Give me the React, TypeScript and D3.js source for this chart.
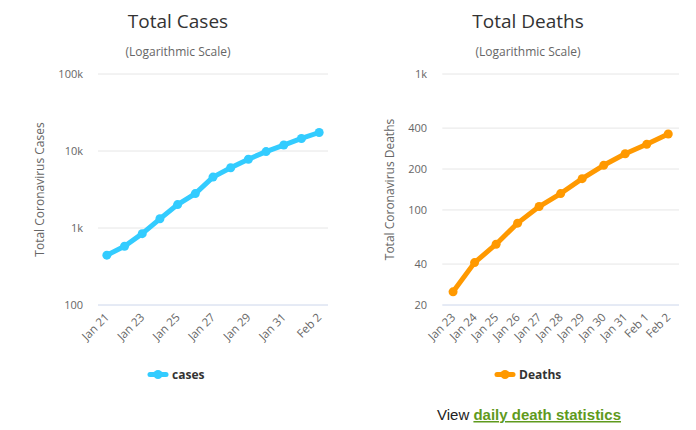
import React from "react";
import * as d3 from "d3";

const caseDates = ["Jan 21","Jan 22","Jan 23","Jan 24","Jan 25","Jan 26","Jan 27","Jan 28","Jan 29","Jan 30","Jan 31","Feb 1","Feb 2"];
const caseValues = [444, 580, 845, 1317, 2015, 2800, 4581, 6058, 7813, 9821, 11948, 14551, 17387];
const caseTicks = [100, 1000, 10000, 100000];
const caseTickLabels = ["100", "1k", "10k", "100k"];

const deathDates = ["Jan 23","Jan 24","Jan 25","Jan 26","Jan 27","Jan 28","Jan 29","Jan 30","Jan 31","Feb 1","Feb 2"];
const deathValues = [25, 41, 56, 80, 106, 132, 170, 213, 259, 304, 362];
const deathTicks = [20, 40, 100, 200, 400, 1000];
const deathTickLabels = ["20", "40", "100", "200", "400", "1k"];

const FONT = "'Open Sans', 'DejaVu Sans', sans-serif";

type PanelProps = {
  ox: number;
  title: string;
  yTitle: string;
  dates: string[];
  values: number[];
  ticks: number[];
  tickLabels: string[];
  domain: [number, number];
  x0: number;
  x1: number;
  labelEvery: number;
  color: string;
  legend: string;
  legendX: number;
  yTitleX: number;
  labelRight: number;
};

function Panel(p: PanelProps) {
  const top = 74, bottom = 305;
  const y = d3.scaleLog().domain(p.domain).range([bottom, top]);
  const x = d3.scaleBand<string>().domain(p.dates).range([p.x0, p.x1]).padding(0);
  const cx = (d: string) => (x(d) as number) + x.bandwidth() / 2;
  const pts = p.dates.map((d, i) => [cx(d), y(p.values[i])] as [number, number]);
  const line = d3.line<[number, number]>().x(d => d[0]).y(d => d[1])(pts) || "";
  const titleX = p.ox + 178;
  return (
    <g>
      <text x={titleX} y={28} textAnchor="middle" fontSize={19} fill="#333333" fontFamily={FONT}>{p.title}</text>
      <text x={titleX} y={56} textAnchor="middle" fontSize={12} fill="#666666" fontFamily={FONT}>(Logarithmic Scale)</text>
      {p.ticks.map((t, i) => (
        <g key={t}>
          <line x1={p.x0} x2={p.x1} y1={y(t)} y2={y(t)} stroke={i === 0 ? "#ccd6eb" : "#e6e6e6"} strokeWidth={1} />
          <text x={p.labelRight} y={y(t) + 4} textAnchor="end" fontSize={11} fill="#666666" fontFamily={FONT}>{p.tickLabels[i]}</text>
        </g>
      ))}
      <text transform={`translate(${p.yTitleX},${(top + bottom) / 2}) rotate(-90)`} textAnchor="middle" fontSize={12} fill="#666666" fontFamily={FONT} dy={4}>{p.yTitle}</text>
      {p.dates.map((d, i) => i % p.labelEvery === 0 ? (
        <text key={d} transform={`translate(${cx(d) + 3},${318}) rotate(-45)`} textAnchor="end" fontSize={11.5} fill="#666666" fontFamily={FONT}>{d}</text>
      ) : null)}
      <path d={line} fill="none" stroke={p.color} strokeWidth={5} strokeLinejoin="round" strokeLinecap="round" />
      {pts.map((pt, i) => <circle key={i} cx={pt[0]} cy={pt[1]} r={4.5} fill={p.color} />)}
      <line x1={p.legendX} x2={p.legendX + 16} y1={374.5} y2={374.5} stroke={p.color} strokeWidth={5} strokeLinecap="round" />
      <circle cx={p.legendX + 8} cy={374.5} r={4.5} fill={p.color} />
      <text x={p.legendX + 22} y={379} fontSize={12} fontWeight="bold" fill="#333333" fontFamily={FONT}>{p.legend}</text>
    </g>
  );
}

export default function App() {
  return (
    <svg width={696} height={430} style={{ position: "absolute", left: 0, top: 0, background: "#fff" }}>
      <rect width={696} height={430} fill="#ffffff" />
      <Panel ox={0} title="Total Cases" yTitle="Total Coronavirus Cases" dates={caseDates} values={caseValues}
        ticks={caseTicks} tickLabels={caseTickLabels} domain={[100, 100000]} x0={98} x1={328} labelEvery={2}
        color="#33ccff" legend="cases" legendX={150} yTitleX={40} labelRight={83} />
      <Panel ox={350} title="Total Deaths" yTitle="Total Coronavirus Deaths" dates={deathDates} values={deathValues}
        ticks={deathTicks} tickLabels={deathTickLabels} domain={[20, 1000]} x0={442.3} x1={679} labelEvery={1}
        color="#ff9900" legend="Deaths" legendX={497} yTitleX={390} labelRight={427} />
      <text x={437} y={420} fontSize={15} fill="#222222" fontFamily="'Liberation Sans', Arial, sans-serif">View <tspan fontWeight="bold" fill="#5f9a1d" textDecoration="underline">daily death statistics</tspan></text>
    </svg>
  );
}
